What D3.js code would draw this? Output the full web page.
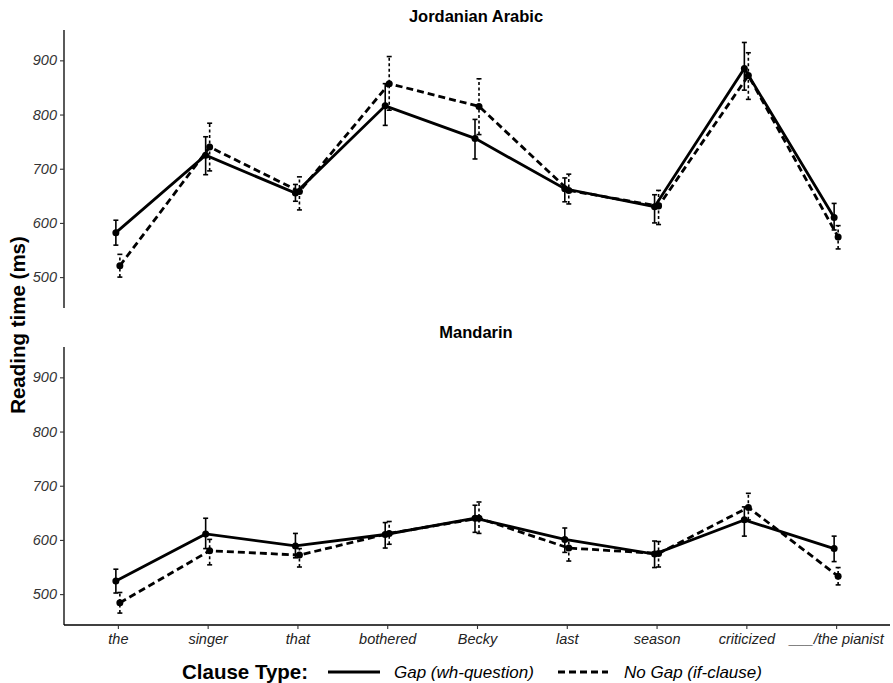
<!DOCTYPE html>
<html>
<head>
<meta charset="utf-8">
<script src="https://cdn.jsdelivr.net/npm/d3@7"></script>
<style>
  body { margin: 0; background: #fff; }
  text { font-family: "Liberation Sans", Arial, sans-serif; }
</style>
</head>
<body>
<div id="vis"></div>
<script>
// data
const CATEGORIES = ["the", "singer", "that", "bothered", "Becky", "last", "season", "criticized", "___/the pianist"];
const Y_TICKS = [500, 600, 700, 800, 900];

const ARABIC_GAP    = [582, 725, 655, 816, 756, 663, 630, 885, 610];
const ARABIC_GAP_LO = [559, 689, 640, 780, 718, 639, 600, 845, 587];
const ARABIC_GAP_HI = [605, 759, 671, 857, 791, 683, 652, 933, 636];
const ARABIC_NOGAP    = [521, 740, 658, 857, 815, 660, 631, 872, 574];
const ARABIC_NOGAP_LO = [500, 696, 624, 808, 763, 635, 597, 828, 552];
const ARABIC_NOGAP_HI = [542, 784, 685, 907, 866, 690, 660, 914, 595];

const MANDARIN_GAP    = [524, 611, 589, 610, 640, 601, 574, 637, 584];
const MANDARIN_GAP_LO = [502, 584, 567, 585, 614, 577, 549, 607, 560];
const MANDARIN_GAP_HI = [546, 640, 612, 632, 664, 622, 598, 661, 607];
const MANDARIN_NOGAP    = [484, 580, 572, 612, 640, 585, 575, 660, 533];
const MANDARIN_NOGAP_LO = [465, 554, 550, 592, 612, 561, 550, 637, 517];
const MANDARIN_NOGAP_HI = [503, 601, 584, 634, 670, 600, 597, 686, 549];

// declare constants
const FRAME_WIDTH = 893;
const FRAME_HEIGHT = 683;
const X_LEFT = 64;
const X_RIGHT = 890;
const Y_DOMAIN = [443, 956];
const DODGE = 2;

const FRAME = d3.select("#vis")
  .append("svg")
    .attr("width", FRAME_WIDTH)
    .attr("height", FRAME_HEIGHT);

const x = d3.scalePoint()
  .domain(CATEGORIES)
  .range([X_LEFT, X_RIGHT])
  .padding(0.6);

function series(means, lo, hi) {
  return CATEGORIES.map((c, i) => ({cat: c, v: means[i], lo: lo[i], hi: hi[i]}));
}

const PANELS = [
  {title: "Jordanian Arabic", top: 30, bottom: 308, titleY: 22, xAxis: false,
   gap: series(ARABIC_GAP, ARABIC_GAP_LO, ARABIC_GAP_HI),
   nogap: series(ARABIC_NOGAP, ARABIC_NOGAP_LO, ARABIC_NOGAP_HI)},
  {title: "Mandarin", top: 347, bottom: 625, titleY: 338, xAxis: true,
   gap: series(MANDARIN_GAP, MANDARIN_GAP_LO, MANDARIN_GAP_HI),
   nogap: series(MANDARIN_NOGAP, MANDARIN_NOGAP_LO, MANDARIN_NOGAP_HI)}
];

function draw_panel(p) {
  const y = d3.scaleLinear().domain(Y_DOMAIN).range([p.bottom, p.top]);
  const g = FRAME.append("g");

  // y axis
  const ya = g.append("g")
    .attr("transform", "translate(" + X_LEFT + ",0)")
    .call(d3.axisLeft(y).tickValues(Y_TICKS).tickSize(4).tickPadding(3));
  ya.select(".domain").attr("d", "M0," + p.top + "V" + p.bottom).attr("stroke", "#000").attr("stroke-width", 1.3);
  ya.selectAll(".tick line").attr("stroke", "#333").attr("stroke-width", 1.1);
  ya.selectAll(".tick text")
    .attr("fill", "#333")
    .style("font-size", "14.5px")
    .style("font-style", "italic");

  // x axis only on the bottom panel
  if (p.xAxis) {
    const xa = g.append("g")
      .attr("transform", "translate(0," + p.bottom + ")")
      .call(d3.axisBottom(x).tickSize(4).tickPadding(5));
    xa.select(".domain").attr("d", "M" + X_LEFT + ",0H" + X_RIGHT).attr("stroke", "#000").attr("stroke-width", 1.3);
    xa.selectAll(".tick line").attr("stroke", "#333").attr("stroke-width", 1.1);
    xa.selectAll(".tick text")
      .attr("fill", "#222")
      .style("font-size", "14.5px")
      .style("font-style", "italic");
  }

  // panel title
  g.append("text")
    .attr("x", 476)
    .attr("y", p.titleY)
    .attr("text-anchor", "middle")
    .style("font-size", "16.5px")
    .style("font-weight", "bold")
    .text(p.title);

  const sets = [
    {data: p.gap, dx: -DODGE, dash: null, barDash: null},
    {data: p.nogap, dx: DODGE, dash: "7,4", barDash: "3,2.5"}
  ];

  sets.forEach(s => {
    const line = d3.line()
      .x(d => x(d.cat) + s.dx)
      .y(d => y(d.v));

    // error bars
    const eb = g.append("g").selectAll("g").data(s.data).enter().append("g");
    eb.append("line")
      .attr("x1", d => x(d.cat) + s.dx).attr("x2", d => x(d.cat) + s.dx)
      .attr("y1", d => y(d.lo)).attr("y2", d => y(d.hi))
      .attr("stroke", "#000").attr("stroke-width", 1.6)
      .attr("stroke-dasharray", s.barDash);
    [d => d.lo, d => d.hi].forEach(f => {
      eb.append("line")
        .attr("x1", d => x(d.cat) + s.dx - 2.5).attr("x2", d => x(d.cat) + s.dx + 2.5)
        .attr("y1", d => y(f(d))).attr("y2", d => y(f(d)))
        .attr("stroke", "#000").attr("stroke-width", 1.6);
    });

    g.append("path")
      .datum(s.data)
      .attr("d", line)
      .attr("fill", "none")
      .attr("stroke", "#000")
      .attr("stroke-width", 2.8)
      .attr("stroke-dasharray", s.dash);

    g.append("g").selectAll("circle").data(s.data).enter().append("circle")
      .attr("cx", d => x(d.cat) + s.dx)
      .attr("cy", d => y(d.v))
      .attr("r", 3.5)
      .attr("fill", "#000");
  });
}

PANELS.forEach(draw_panel);

// y axis title
FRAME.append("text")
  .attr("transform", "translate(25,325) rotate(-90)")
  .attr("text-anchor", "middle")
  .style("font-size", "20.5px")
  .style("font-weight", "bold")
  .text("Reading time (ms)");

// legend
const LEGEND_Y = 672;
const legend = FRAME.append("g");
legend.append("text")
  .attr("x", 182).attr("y", LEGEND_Y).attr("dy", "0.35em")
  .style("font-size", "20.5px").style("font-weight", "bold")
  .text("Clause Type:");
legend.append("line")
  .attr("x1", 328).attr("x2", 380).attr("y1", LEGEND_Y).attr("y2", LEGEND_Y)
  .attr("stroke", "#000").attr("stroke-width", 3);
legend.append("text")
  .attr("x", 394).attr("y", LEGEND_Y).attr("dy", "0.35em")
  .style("font-size", "17px").style("font-style", "italic")
  .text("Gap (wh-question)");
legend.append("line")
  .attr("x1", 558).attr("x2", 608).attr("y1", LEGEND_Y).attr("y2", LEGEND_Y)
  .attr("stroke", "#000").attr("stroke-width", 3)
  .attr("stroke-dasharray", "7,4");
legend.append("text")
  .attr("x", 624).attr("y", LEGEND_Y).attr("dy", "0.35em")
  .style("font-size", "17px").style("font-style", "italic")
  .text("No Gap (if-clause)");
</script>
</body>
</html>
